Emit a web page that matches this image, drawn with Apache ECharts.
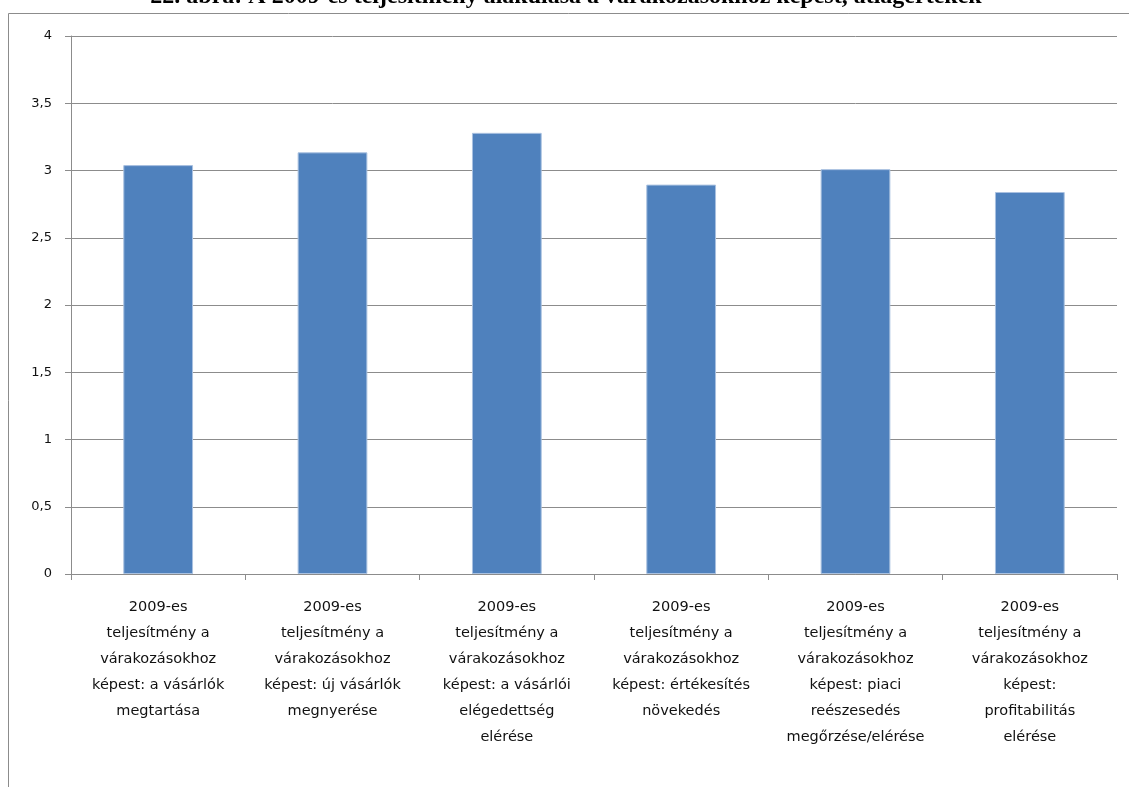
<!DOCTYPE html>
<html>
<head>
<meta charset="utf-8">
<script src="https://cdn.jsdelivr.net/npm/echarts@6/dist/echarts.min.js"></script>
<style>
  html, body { margin: 0; padding: 0; background: #fff; }
  #chart { width: 1129px; height: 787px; }
</style>
</head>
<body>
<div id="chart"></div>
<script>
// Average performance in 2009 relative to expectations
const titleText = '22. ábra: A 2009-es teljesítmény alakulása a várakozásokhoz képest, átlagértékek';

const categories = [
  '2009-es\nteljesítmény a\nvárakozásokhoz\nképest: a vásárlók\nmegtartása',
  '2009-es\nteljesítmény a\nvárakozásokhoz\nképest: új vásárlók\nmegnyerése',
  '2009-es\nteljesítmény a\nvárakozásokhoz\nképest: a vásárlói\nelégedettség\nelérése',
  '2009-es\nteljesítmény a\nvárakozásokhoz\nképest: értékesítés\nnövekedés',
  '2009-es\nteljesítmény a\nvárakozásokhoz\nképest: piaci\nreészesedés\nmegőrzése/elérése',
  '2009-es\nteljesítmény a\nvárakozásokhoz\nképest:\nprofitabilitás\nelérése'
];

const averages = [3.04, 3.135, 3.28, 2.895, 3.01, 2.84];

const yMin = 0;
const yMax = 4;
const yStep = 0.5;

const chart = echarts.init(document.getElementById('chart'), null, { renderer: 'canvas' });

chart.setOption({
  animation: false,
  backgroundColor: '#ffffff',
  graphic: [
    {
      type: 'text',
      x: 566,
      y: 9,
      style: {
        text: titleText,
        font: 'bold 24px "Liberation Serif", serif',
        fill: '#000',
        align: 'center',
        verticalAlign: 'bottom'
      }
    },
    {
      type: 'polyline',
      shape: { points: [[8.5, 787], [8.5, 13.5], [1129, 13.5]] },
      style: { stroke: '#8c8c8c', lineWidth: 1, fill: null }
    }
  ],
  grid: {
    left: 71,
    right: 12,
    top: 36,
    bottom: 213,
    containLabel: false
  },
  xAxis: {
    type: 'category',
    data: categories,
    boundaryGap: true,
    axisLine: { show: true, lineStyle: { color: '#8c8c8c', width: 1 } },
    axisTick: { show: true, alignWithLabel: false, length: 6, lineStyle: { color: '#8c8c8c' } },
    axisLabel: {
      interval: 0,
      margin: 20,
      color: '#111',
      fontFamily: '"DejaVu Sans", sans-serif',
      fontSize: 14.5,
      lineHeight: 26,
      align: 'center'
    },
    splitLine: { show: false }
  },
  yAxis: {
    type: 'value',
    min: yMin,
    max: yMax,
    interval: yStep,
    axisLine: { show: true, lineStyle: { color: '#8c8c8c', width: 1 } },
    axisTick: { show: true, length: 6, lineStyle: { color: '#8c8c8c' } },
    axisLabel: {
      margin: 19,
      color: '#111',
      fontFamily: '"DejaVu Sans", sans-serif',
      fontSize: 13,
      formatter: v => String(v).replace('.', ',')
    },
    splitLine: { show: true, lineStyle: { color: '#8c8c8c', width: 1 } }
  },
  series: [
    {
      type: 'bar',
      data: averages,
      barWidth: '40%',
      itemStyle: {
        color: '#4f81bd',
        borderColor: '#a9c1e0',
        borderWidth: 1
      }
    }
  ]
});
</script>
</body>
</html>
